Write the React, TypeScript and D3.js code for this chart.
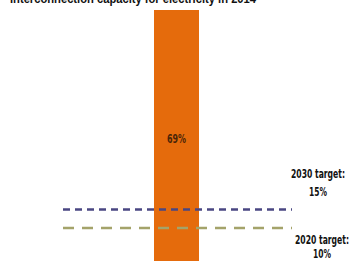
import React from "react";
import * as d3 from "d3";

const title = "Interconnection capacity for electricity in 2014";
const barCategories = ["2014"];
const barValues = [69];
const barLabels = ["69%"];
const targetNames = ["2030 target:", "2020 target:"];
const targetValues = [15, 10];
const targetLabels = ["15%", "10%"];

const W = 353;
const H = 261;
const FONT = "'DejaVu Sans Condensed', 'Liberation Sans', sans-serif";

export default function App() {
  const y = d3.scaleLinear().domain([0, d3.max(barValues)!]).range([265, 10]);
  const x = d3.scaleBand().domain(barCategories).range([154, 199]).padding(0);
  const lineX = d3.scaleLinear().domain([0, 1]).range([63, 292]);
  const lineStyles = [
    { color: "#4a4782", dash: "7,5" },
    { color: "#a4a36a", dash: "11,8" },
  ];
  const labelPos = [
    { cx: 318, dy1: -32, dy2: -14 },
    { cx: 322, dy1: 16, dy2: 30 },
  ];
  return (
    <svg width={W} height={H} style={{ position: "absolute", left: 0, top: 0, background: "#fff" }}>
      <text x={10} y={3} fontFamily="'Liberation Sans', Arial, sans-serif" fontWeight="bold" fontSize={12}
        fill="#111" textLength={246} lengthAdjust="spacingAndGlyphs">{title}</text>
      {barCategories.map((c, i) => (
        <g key={c}>
          <rect x={x(c)} y={y(barValues[i])} width={x.bandwidth()} height={y(0) - y(barValues[i])} fill="#e56b0c" />
          <text x={x(c)! + x.bandwidth() / 2} y={(y(barValues[i]) + y(0)) / 2 + 5} textAnchor="middle"
            fontFamily={FONT} fontWeight="bold" fontSize={12} fill="#4a2508" textLength={19}
            lengthAdjust="spacingAndGlyphs">{barLabels[i]}</text>
        </g>
      ))}
      {targetValues.map((v, i) => (
        <g key={targetNames[i]}>
          <line x1={lineX(0)} x2={lineX(1)} y1={y(v)} y2={y(v)} stroke={lineStyles[i].color}
            strokeWidth={2.5} strokeDasharray={lineStyles[i].dash} />
          <text x={labelPos[i].cx} y={y(v) + labelPos[i].dy1} textAnchor="middle" fontFamily={FONT}
            fontWeight="bold" fontSize={13} fill="#111" textLength={54} lengthAdjust="spacingAndGlyphs">{targetNames[i]}</text>
          <text x={labelPos[i].cx} y={y(v) + labelPos[i].dy2} textAnchor="middle" fontFamily={FONT}
            fontWeight="bold" fontSize={13} fill="#111" textLength={18} lengthAdjust="spacingAndGlyphs">{targetLabels[i]}</text>
        </g>
      ))}
    </svg>
  );
}
